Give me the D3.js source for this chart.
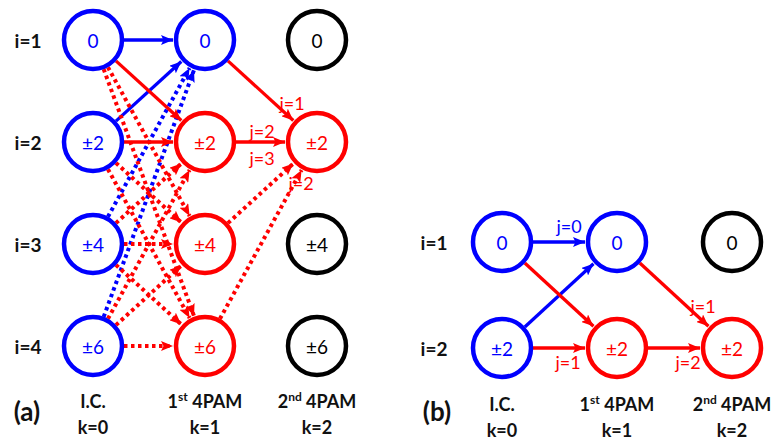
<!DOCTYPE html>
<html>
<head>
<meta charset="utf-8">
<script src="https://cdn.jsdelivr.net/npm/d3@7/dist/d3.min.js"></script>
<style>
  html, body { margin: 0; padding: 0; background: #fff; }
  svg { display: block; }
  text { font-family: Lato, "Open Sans", "Noto Sans", sans-serif; }
</style>
</head>
<body>
<svg id="chart" width="773" height="441"></svg>
<script>
// ---- Trellis (a): 4PAM, four levels, three stages ----
const levelsA = ["0", "\u00b12", "\u00b14", "\u00b16"];
const rowLabelsA = ["i=1", "i=2", "i=3", "i=4"];
// node state per stage (k) and level (i): "start" | "reached" | "idle"
const statesA = [
  ["start", "start", "start", "start"],
  ["start", "reached", "reached", "reached"],
  ["idle", "reached", "idle", "idle"]
];
// transitions: [k, i] -> [k+1, i'], colour group, dotted, label
const edgesA = [
  { from: [0, 0], to: [1, 0], group: "start", dotted: false },
  { from: [0, 1], to: [1, 0], group: "start", dotted: false },
  { from: [0, 2], to: [1, 0], group: "start", dotted: true },
  { from: [0, 3], to: [1, 0], group: "start", dotted: true },
  { from: [0, 0], to: [1, 1], group: "reached", dotted: false },
  { from: [0, 0], to: [1, 2], group: "reached", dotted: true },
  { from: [0, 0], to: [1, 3], group: "reached", dotted: true },
  { from: [0, 1], to: [1, 1], group: "reached", dotted: false },
  { from: [0, 1], to: [1, 2], group: "reached", dotted: true },
  { from: [0, 1], to: [1, 3], group: "reached", dotted: true },
  { from: [0, 2], to: [1, 1], group: "reached", dotted: true },
  { from: [0, 2], to: [1, 2], group: "reached", dotted: true },
  { from: [0, 2], to: [1, 3], group: "reached", dotted: true },
  { from: [0, 3], to: [1, 1], group: "reached", dotted: true },
  { from: [0, 3], to: [1, 2], group: "reached", dotted: true },
  { from: [0, 3], to: [1, 3], group: "reached", dotted: true },
  { from: [1, 0], to: [2, 1], group: "reached", dotted: false },
  { from: [1, 1], to: [2, 1], group: "reached", dotted: false },
  { from: [1, 2], to: [2, 1], group: "reached", dotted: true },
  { from: [1, 3], to: [2, 1], group: "reached", dotted: true }
];

// ---- Trellis (b): two levels, three stages ----
const levelsB = ["0", "\u00b12"];
const rowLabelsB = ["i=1", "i=2"];
const statesB = [
  ["start", "start"],
  ["start", "reached"],
  ["idle", "reached"]
];
const edgesB = [
  { from: [0, 0], to: [1, 0], group: "start", dotted: false },
  { from: [0, 1], to: [1, 0], group: "start", dotted: false },
  { from: [0, 0], to: [1, 1], group: "reached", dotted: false },
  { from: [0, 1], to: [1, 1], group: "reached", dotted: false },
  { from: [1, 0], to: [2, 1], group: "reached", dotted: false },
  { from: [1, 1], to: [2, 1], group: "reached", dotted: false }
];

// stage captions shared by both panels
const stageTitles = [["I.C.", null], ["1", "st", " 4PAM"], ["2", "nd", " 4PAM"]];
const stageKs = ["k=0", "k=1", "k=2"];

const color = d3.scaleOrdinal()
  .domain(["start", "reached", "idle"])
  .range(["#0000ff", "#ff0000", "#000000"]);

const svg = d3.select("#chart");
const R = 29;

const defs = svg.append("defs");
["start", "reached"].forEach(g => {
  defs.append("marker")
    .attr("id", "arrow-" + g)
    .attr("markerUnits", "userSpaceOnUse")
    .attr("viewBox", "0 0 12 10")
    .attr("refX", 12).attr("refY", 5)
    .attr("markerWidth", 12).attr("markerHeight", 10)
    .attr("orient", "auto")
    .append("path")
    .attr("d", "M0,0 L12,5 L0,10 L2.5,5 Z")
    .attr("fill", color(g));
});

function drawPanel(cfg) {
  const x = d3.scalePoint().domain(d3.range(3)).range(cfg.xRange);
  const y = d3.scalePoint().domain(d3.range(cfg.levels.length)).range(cfg.yRange);
  const g = svg.append("g");

  // transitions
  const eg = g.append("g");
  cfg.edges.forEach(e => {
    const x0 = x(e.from[0]), y0 = y(e.from[1]);
    const x1 = x(e.to[0]), y1 = y(e.to[1]);
    const dx = x1 - x0, dy = y1 - y0, len = Math.hypot(dx, dy);
    const ux = dx / len, uy = dy / len;
    const s = R + 2, t = R + 3;
    eg.append("line")
      .attr("x1", x0 + ux * s).attr("y1", y0 + uy * s)
      .attr("x2", x1 - ux * t).attr("y2", y1 - uy * t)
      .attr("stroke", color(e.group))
      .attr("stroke-width", e.dotted ? 4 : 3.3)
      .attr("stroke-dasharray", e.dotted ? "3.5,3.5" : null)
      .attr("marker-end", "url(#arrow-" + e.group + ")");
  });

  // states
  cfg.states.forEach((col, k) => {
    col.forEach((st, i) => {
      g.append("circle")
        .attr("cx", x(k)).attr("cy", y(i)).attr("r", R)
        .attr("fill", "none")
        .attr("stroke", color(st))
        .attr("stroke-width", 4.5);
      g.append("text")
        .attr("x", x(k)).attr("y", y(i))
        .attr("text-anchor", "middle")
        .attr("dominant-baseline", "central")
        .attr("font-size", 19)
        .attr("fill", color(st))
        .text(cfg.levels[i]);
    });
  });

  // branch labels
  cfg.labels.forEach(l => {
    g.append("text")
      .attr("x", l.x).attr("y", l.y)
      .attr("text-anchor", "middle")
      .attr("dominant-baseline", "central")
      .attr("font-size", 18)
      .attr("fill", color(l.group))
      .text(l.text);
  });

  // row labels
  cfg.rowLabels.forEach((t, i) => {
    g.append("text")
      .attr("x", cfg.rowX).attr("y", y(i))
      .attr("text-anchor", "middle")
      .attr("dominant-baseline", "central")
      .attr("font-size", 19).attr("font-weight", "bold")
      .attr("fill", "#111")
      .text(t);
  });

  // stage captions
  stageTitles.forEach((parts, k) => {
    const tt = g.append("text")
      .attr("x", x(k)).attr("y", cfg.titleY)
      .attr("text-anchor", "middle")
      .attr("font-size", 18).attr("font-weight", "bold")
      .attr("fill", "#111");
    if (parts[1] === null) {
      tt.text(parts[0]);
    } else {
      tt.append("tspan").text(parts[0]);
      tt.append("tspan").attr("dy", -7).attr("font-size", 12).text(parts[1]);
      tt.append("tspan").attr("dy", 7).text(parts[2]);
    }
    g.append("text")
      .attr("x", x(k)).attr("y", cfg.titleY + 26)
      .attr("text-anchor", "middle")
      .attr("font-size", 18).attr("font-weight", "bold")
      .attr("fill", "#111")
      .text(stageKs[k]);
  });

  g.append("text")
    .attr("x", cfg.tagX).attr("y", cfg.tagY)
    .attr("text-anchor", "middle")
    .attr("font-size", 26).attr("font-weight", "bold")
    .attr("fill", "#111")
    .text(cfg.tag);
}

drawPanel({
  levels: levelsA, states: statesA, edges: edgesA, rowLabels: rowLabelsA,
  xRange: [93, 317], yRange: [40, 346], rowX: 28,
  titleY: 408, tagX: 27, tagY: 421, tag: "(a)",
  labels: [
    { text: "j=1", x: 292, y: 103, group: "reached" },
    { text: "j=2", x: 262, y: 131, group: "reached" },
    { text: "j=3", x: 262, y: 158, group: "reached" },
    { text: "j=2", x: 301, y: 183, group: "reached" }
  ]
});

drawPanel({
  levels: levelsB, states: statesB, edges: edgesB, rowLabels: rowLabelsB,
  xRange: [502, 732], yRange: [242, 348], rowX: 434,
  titleY: 411, tagX: 437, tagY: 421, tag: "(b)",
  labels: [
    { text: "j=0", x: 569, y: 226, group: "start" },
    { text: "j=1", x: 568, y: 362, group: "reached" },
    { text: "j=1", x: 703, y: 306, group: "reached" },
    { text: "j=2", x: 688, y: 362, group: "reached" }
  ]
});
</script>
</body>
</html>
